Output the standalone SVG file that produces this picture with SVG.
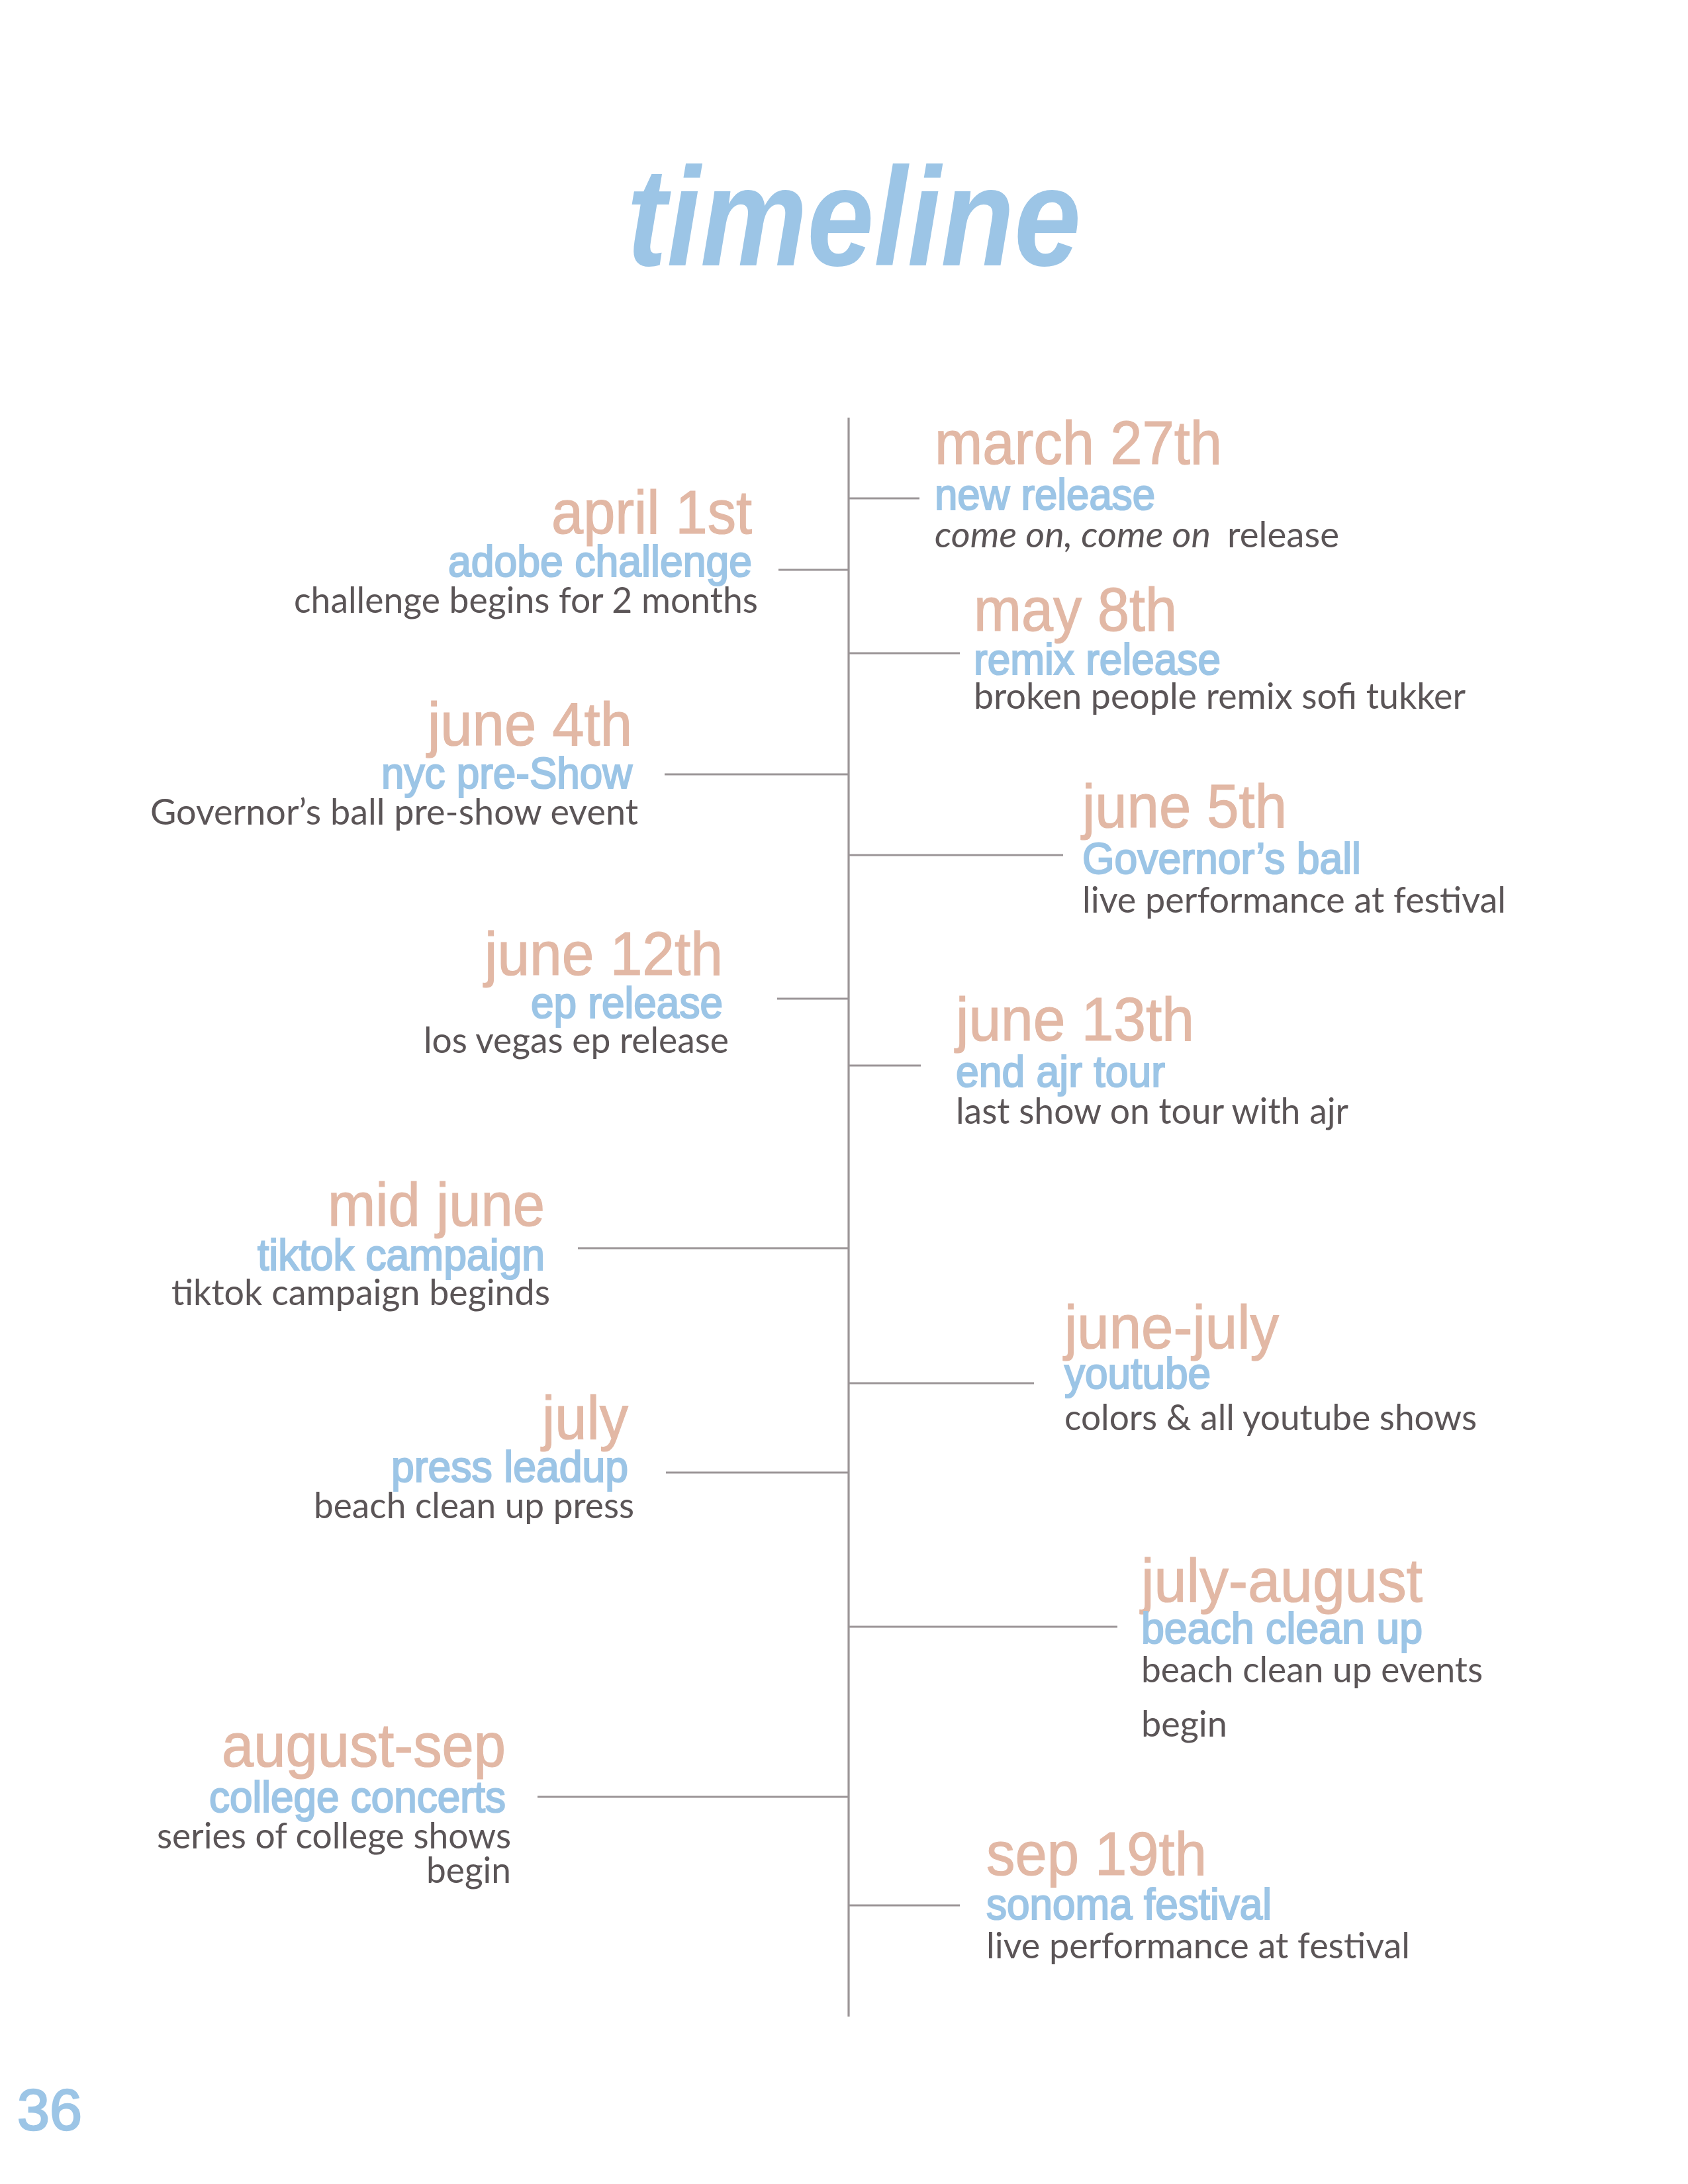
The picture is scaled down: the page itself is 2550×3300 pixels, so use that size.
<svg xmlns="http://www.w3.org/2000/svg" width="2550" height="3300" viewBox="0 0 2550 3300">
<style>
.title{font-family:"Liberation Sans",Arial,sans-serif;font-weight:bold;font-style:italic;font-size:211px;fill:#9cc5e6}
.date{font-family:"Liberation Sans",Arial,sans-serif;font-size:92px;fill:#e2b8a5;stroke:#e2b8a5;stroke-width:1.2px}
.sub{font-family:"Liberation Sans",Arial,sans-serif;font-size:66px;fill:#9cc5e6;stroke:#9cc5e6;stroke-width:2.2px}
.body{font-family:Lato,"Liberation Sans",sans-serif;font-size:54px;fill:#5b5557}
.it{font-style:italic}
.end{text-anchor:end}
.ln{stroke:#9b9597;stroke-width:3.2;fill:none}
.pg{font-family:"Liberation Sans",Arial,sans-serif;font-size:88px;fill:#9cc5e6;stroke:#9cc5e6;stroke-width:2.5px}
</style>
<rect width="2550" height="3300" fill="#ffffff"/>
<text class="title" x="947" y="401" textLength="686" lengthAdjust="spacingAndGlyphs">timeline</text>

<g id="connectors">
<line class="ln" x1="1282" y1="631" x2="1282" y2="3047"/>
<line class="ln" x1="1282" y1="753" x2="1389" y2="753"/>
<line class="ln" x1="1282" y1="987" x2="1450" y2="987"/>
<line class="ln" x1="1282" y1="1292" x2="1606" y2="1292"/>
<line class="ln" x1="1282" y1="1610" x2="1391" y2="1610"/>
<line class="ln" x1="1282" y1="2090" x2="1562" y2="2090"/>
<line class="ln" x1="1282" y1="2458" x2="1688" y2="2458"/>
<line class="ln" x1="1282" y1="2879" x2="1450" y2="2879"/>
<line class="ln" x1="1176" y1="861" x2="1282" y2="861"/>
<line class="ln" x1="1004" y1="1170" x2="1282" y2="1170"/>
<line class="ln" x1="1174" y1="1509" x2="1282" y2="1509"/>
<line class="ln" x1="873" y1="1886" x2="1282" y2="1886"/>
<line class="ln" x1="1006" y1="2225" x2="1282" y2="2225"/>
<line class="ln" x1="812" y1="2715" x2="1282" y2="2715"/>
</g>

<g id="march27">
<text class="date" x="1412" y="701" textLength="434" lengthAdjust="spacingAndGlyphs">march 27th</text>
<text class="sub" x="1412" y="770" textLength="333" lengthAdjust="spacingAndGlyphs">new release</text>
<text class="body it" x="1412" y="827" textLength="417" lengthAdjust="spacingAndGlyphs">come on, come on</text>
<text class="body" x="1854" y="827" textLength="169" lengthAdjust="spacingAndGlyphs">release</text>
</g>

<g id="may8">
<text class="date" x="1471" y="953" textLength="307" lengthAdjust="spacingAndGlyphs">may 8th</text>
<text class="sub" x="1471" y="1019" textLength="373" lengthAdjust="spacingAndGlyphs">remix release</text>
<text class="body" x="1471" y="1071" textLength="743" lengthAdjust="spacingAndGlyphs">broken people remix sofi tukker</text>
</g>

<g id="june5">
<text class="date" x="1635" y="1250" textLength="309" lengthAdjust="spacingAndGlyphs">june 5th</text>
<text class="sub" x="1635" y="1320" textLength="421" lengthAdjust="spacingAndGlyphs">Governor’s ball</text>
<text class="body" x="1635" y="1379" textLength="640" lengthAdjust="spacingAndGlyphs">live performance at festival</text>
</g>

<g id="june13">
<text class="date" x="1444" y="1572" textLength="360" lengthAdjust="spacingAndGlyphs">june 13th</text>
<text class="sub" x="1444" y="1642" textLength="316" lengthAdjust="spacingAndGlyphs">end ajr tour</text>
<text class="body" x="1444" y="1698" textLength="593" lengthAdjust="spacingAndGlyphs">last show on tour with ajr</text>
</g>

<g id="junejuly">
<text class="date" x="1608" y="2037" textLength="324" lengthAdjust="spacingAndGlyphs">june-july</text>
<text class="sub" x="1608" y="2098" textLength="221" lengthAdjust="spacingAndGlyphs">youtube</text>
<text class="body" x="1608" y="2161" textLength="623" lengthAdjust="spacingAndGlyphs">colors &amp; all youtube shows</text>
</g>

<g id="julyaugust">
<text class="date" x="1724" y="2420" textLength="425" lengthAdjust="spacingAndGlyphs">july-august</text>
<text class="sub" x="1724" y="2483" textLength="425" lengthAdjust="spacingAndGlyphs">beach clean up</text>
<text class="body" x="1724" y="2542" textLength="516" lengthAdjust="spacingAndGlyphs">beach clean up events</text>
<text class="body" x="1724" y="2624" textLength="130" lengthAdjust="spacingAndGlyphs">begin</text>
</g>

<g id="sep19">
<text class="date" x="1490" y="2833" textLength="333" lengthAdjust="spacingAndGlyphs">sep 19th</text>
<text class="sub" x="1490" y="2900" textLength="431" lengthAdjust="spacingAndGlyphs">sonoma festival</text>
<text class="body" x="1490" y="2959" textLength="640" lengthAdjust="spacingAndGlyphs">live performance at festival</text>
</g>

<g id="april1">
<text class="date end" x="1136" y="806" textLength="303" lengthAdjust="spacingAndGlyphs">april 1st</text>
<text class="sub end" x="1136" y="871" textLength="459" lengthAdjust="spacingAndGlyphs">adobe challenge</text>
<text class="body end" x="1145" y="926" textLength="701" lengthAdjust="spacingAndGlyphs">challenge begins for 2 months</text>
</g>

<g id="june4">
<text class="date end" x="955" y="1126" textLength="309" lengthAdjust="spacingAndGlyphs">june 4th</text>
<text class="sub end" x="955" y="1191" textLength="379" lengthAdjust="spacingAndGlyphs">nyc pre-Show</text>
<text class="body end" x="964" y="1246" textLength="737" lengthAdjust="spacingAndGlyphs">Governor’s ball pre-show event</text>
</g>

<g id="june12">
<text class="date end" x="1092" y="1473" textLength="360" lengthAdjust="spacingAndGlyphs">june 12th</text>
<text class="sub end" x="1092" y="1538" textLength="290" lengthAdjust="spacingAndGlyphs">ep release</text>
<text class="body end" x="1101" y="1591" textLength="461" lengthAdjust="spacingAndGlyphs">los vegas ep release</text>
</g>

<g id="midjune">
<text class="date end" x="823" y="1852" textLength="328" lengthAdjust="spacingAndGlyphs">mid june</text>
<text class="sub end" x="823" y="1919" textLength="434" lengthAdjust="spacingAndGlyphs">tiktok campaign</text>
<text class="body end" x="831" y="1972" textLength="572" lengthAdjust="spacingAndGlyphs">tiktok campaign beginds</text>
</g>

<g id="july">
<text class="date end" x="949" y="2174" textLength="130" lengthAdjust="spacingAndGlyphs">july</text>
<text class="sub end" x="949" y="2239" textLength="358" lengthAdjust="spacingAndGlyphs">press leadup</text>
<text class="body end" x="958" y="2294" textLength="484" lengthAdjust="spacingAndGlyphs">beach clean up press</text>
</g>

<g id="augustsep">
<text class="date end" x="764" y="2669" textLength="429" lengthAdjust="spacingAndGlyphs">august-sep</text>
<text class="sub end" x="764" y="2738" textLength="448" lengthAdjust="spacingAndGlyphs">college concerts</text>
<text class="body end" x="772" y="2793" textLength="535" lengthAdjust="spacingAndGlyphs">series of college shows</text>
<text class="body end" x="772" y="2845" textLength="128" lengthAdjust="spacingAndGlyphs">begin</text>
</g>

<text class="pg" x="26" y="3218">36</text>
</svg>
